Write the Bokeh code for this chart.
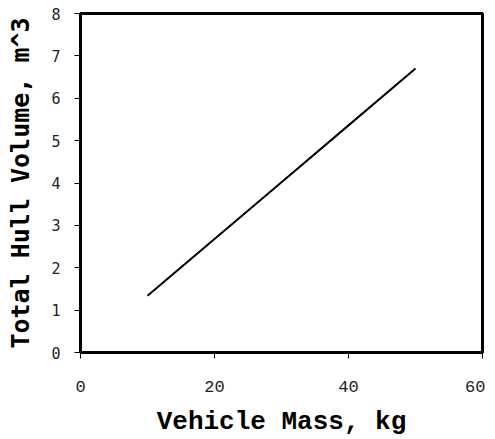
from bokeh.plotting import figure
from bokeh.models import FixedTicker, ColumnDataSource
from bokeh.embed import file_html
from bokeh.resources import INLINE

# Data
vehicle_mass = [10, 20, 30, 40, 50]          # kg
hull_volume = [1.34, 2.68, 4.02, 5.36, 6.70]  # m^3

x_ticks = [0, 20, 40, 60]
y_ticks = [0, 1, 2, 3, 4, 5, 6, 7, 8]

src = ColumnDataSource(data=dict(x=vehicle_mass, y=hull_volume))

p = figure(width=485, height=439, output_backend="svg", toolbar_location=None,
           x_range=(0, 60), y_range=(0, 8),
           min_border_left=80, min_border_top=13, min_border_right=3, min_border_bottom=83)

p.line("x", "y", source=src, line_color="black", line_width=2)

p.xgrid.visible = False
p.ygrid.visible = False
p.outline_line_color = "black"
p.outline_line_width = 3
p.outline_line_alpha = 1
p.background_fill_color = "white"
p.border_fill_color = "white"

xa = p.xaxis[0]
xa.ticker = FixedTicker(ticks=x_ticks)
xa.axis_label = "Vehicle Mass, kg"
xa.axis_label_text_font = "Liberation Mono"
xa.axis_label_text_font_style = "bold"
xa.axis_label_text_font_size = "26px"
xa.axis_label_text_color = "black"
xa.axis_label_standoff = 12
xa.major_label_text_font = "Liberation Mono"
xa.major_label_text_font_size = "17px"
xa.major_label_text_color = "#222222"
xa.major_label_standoff = 22
xa.axis_line_width = 3
xa.axis_line_color = "black"
xa.major_tick_out = 6
xa.major_tick_in = 0
xa.major_tick_line_width = 1
xa.minor_tick_line_color = None

ya = p.yaxis[0]
ya.ticker = FixedTicker(ticks=y_ticks)
ya.axis_label = "Total Hull Volume, m^3"
ya.axis_label_text_font = "DejaVu Sans Mono"
ya.axis_label_text_font_style = "bold"
ya.axis_label_text_font_size = "25px"
ya.axis_label_text_color = "black"
ya.axis_label_standoff = 13
ya.major_label_text_font = "DejaVu Sans Mono"
ya.major_label_text_font_size = "15px"
ya.major_label_text_color = "#222222"
ya.major_label_standoff = 14
ya.axis_line_width = 3
ya.axis_line_color = "black"
ya.major_tick_out = 6
ya.major_tick_in = 0
ya.major_tick_line_width = 1
ya.minor_tick_line_color = None

open("out.html", "w").write(file_html(p, INLINE))
